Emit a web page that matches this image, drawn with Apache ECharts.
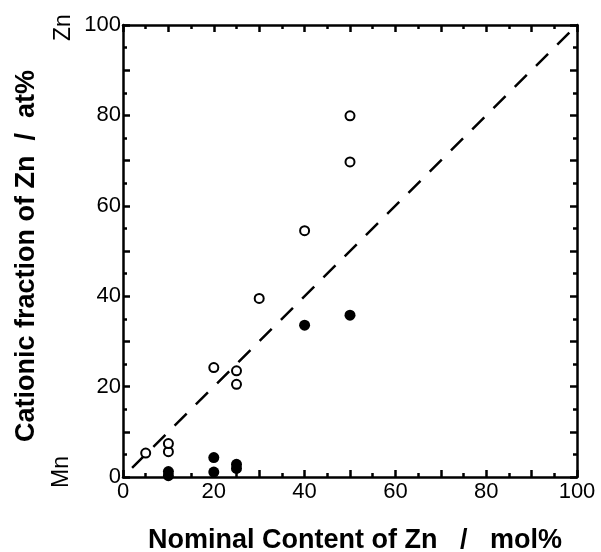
<!DOCTYPE html>
<html><head><meta charset="utf-8">
<script src="https://cdn.jsdelivr.net/npm/echarts@6/dist/echarts.min.js"></script>
<style>html,body{margin:0;padding:0;background:#fff}#c{width:601px;height:552px}</style>
</head><body><div id="c"></div>
<script>
const openX = [5, 10, 10, 20, 25, 25, 30, 40, 50, 50];
const openY = [5.3, 5.6, 7.4, 24.2, 23.5, 20.5, 39.5, 54.5, 69.7, 79.9];
const filledX = [10, 10, 20, 20, 25, 25, 40, 50];
const filledY = [0.3, 1.2, 1.1, 4.3, 1.9, 2.8, 33.6, 35.8];
const lineX = [2, 100];
const lineY = [2, 100];
const xTitle = 'Nominal Content of Zn   /   mol%';
const yTitle = 'Cationic fraction of Zn  /  at%';

const font = 'Liberation Sans, Arial, Helvetica, sans-serif';
function axisBase(show){
  return {
    type:'value', min:0, max:100, interval:10,
    axisLine:{show:true, onZero:false, lineStyle:{color:'#000', width:2.5}},
    axisTick:{show:true, inside:true, length:7, lineStyle:{color:'#000', width:2.5}},
    minorTick:{show:true, splitNumber:2, length:4, lineStyle:{color:'#000', width:2.5}},
    splitLine:{show:false},
    axisLabel:{show:show, color:'#000', fontFamily:font, fontSize:22,
      formatter: v => (v % 20 === 0 ? String(v) : '')}
  };
}
const xb = Object.assign(axisBase(true), {position:'bottom', name:xTitle, nameLocation:'middle', nameGap:50,
  nameTextStyle:{color:'#000', fontFamily:font, fontSize:27, fontWeight:'bold', padding:[0,0,0,10]}});
xb.axisLabel.margin = 4;
const xt = Object.assign(axisBase(false), {position:'top'});
const yl = Object.assign(axisBase(true), {position:'left', name:yTitle, nameLocation:'middle', nameGap:83,
  nameTextStyle:{color:'#000', fontFamily:font, fontSize:27, fontWeight:'bold', padding:[0,10,0,0]}});
yl.axisLabel.margin = 2;
const yr = Object.assign(axisBase(false), {position:'right'});

const chart = echarts.init(document.getElementById('c'), null, {renderer:'canvas'});
chart.setOption({
  animation:false,
  backgroundColor:'#fff',
  grid:{left:123, right:24, top:25, bottom:75, containLabel:false, outerBoundsMode:'none'},
  xAxis:[xb, xt],
  yAxis:[yl, yr],
  graphic:[
    {type:'text', x:52, y:41, rotation:Math.PI/2, style:{text:'Zn', fill:'#000', font:'23px '+font}},
    {type:'text', x:50, y:488, rotation:Math.PI/2, style:{text:'Mn', fill:'#000', font:'23px '+font}}
  ],
  series:[
    {type:'line', data:lineX.map((x,i)=>[x,lineY[i]]), showSymbol:false, symbol:'none',
     lineStyle:{color:'#000', width:2.5, type:[17,13]}, z:1},
    {type:'scatter', data:openX.map((x,i)=>[x,openY[i]]), symbol:'circle', symbolSize:9,
     itemStyle:{color:'#fff', borderColor:'#000', borderWidth:2, opacity:1}, z:3},
    {type:'scatter', data:filledX.map((x,i)=>[x,filledY[i]]), symbol:'circle', symbolSize:11,
     itemStyle:{color:'#000', opacity:1}, z:3}
  ]
});
</script></body></html>
